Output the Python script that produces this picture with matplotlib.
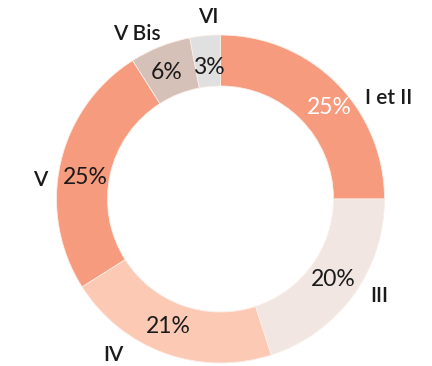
import matplotlib
matplotlib.use("Agg")
import matplotlib.pyplot as plt
import numpy as np

categories = ["I et II", "III", "IV", "V", "V Bis", "VI"]
shares = [25, 20, 21, 25, 6, 3]
colors = ["#F79B7E", "#F1E6E2", "#FCC9B5", "#F79B7E", "#D6C1B8", "#E0E0E0"]
pct_colors = ["white", "#1a1a1a", "#1a1a1a", "#1a1a1a", "#1a1a1a", "#1a1a1a"]

W, H = 432, 366
fig = plt.figure(figsize=(W / 100, H / 100), dpi=100)
ax = fig.add_axes([0, 0, 1, 1])

cx, cy = 220.5, H - 199
r_out, r_in = 164, 113

wedges, _ = ax.pie(shares, colors=colors, startangle=90, counterclock=False,
                   center=(cx, cy), radius=r_out, frame=True,
                   wedgeprops=dict(width=r_out - r_in, edgecolor="#fbeee8",
                                   linewidth=0.6))
ax.set_xlim(0, W)
ax.set_ylim(0, H)
ax.set_aspect("equal")
ax.axis("off")

font = "Lato"

# angular placement of the percentage text inside the ring (degrees, math convention)
pct_angles = [40, -35.6, 248, 171, 113, 95]
pct_radius = [142, 139, 138, 137, 137, 132]
total = sum(shares)
for s, a, rr, c in zip(shares, pct_angles, pct_radius, pct_colors):
    t = np.deg2rad(a)
    ax.text(cx + rr * np.cos(t), cy + rr * np.sin(t), f"{round(100 * s / total)}%",
            ha="center", va="center", fontsize=16.5, color=c, family=font)

# category names outside the ring
label_angles = [31, -31.5, 235.5, 174, 117, 94]
label_radius = [196, 186, 189, 181, 185, 182]
for name, a, rr in zip(categories, label_angles, label_radius):
    t = np.deg2rad(a)
    ax.text(cx + rr * np.cos(t), cy + rr * np.sin(t), name,
            ha="center", va="center", fontsize=15, color="#1a1a1a",
            family=font, fontweight="semibold")

fig.savefig("out.png", dpi=100, facecolor="white")
